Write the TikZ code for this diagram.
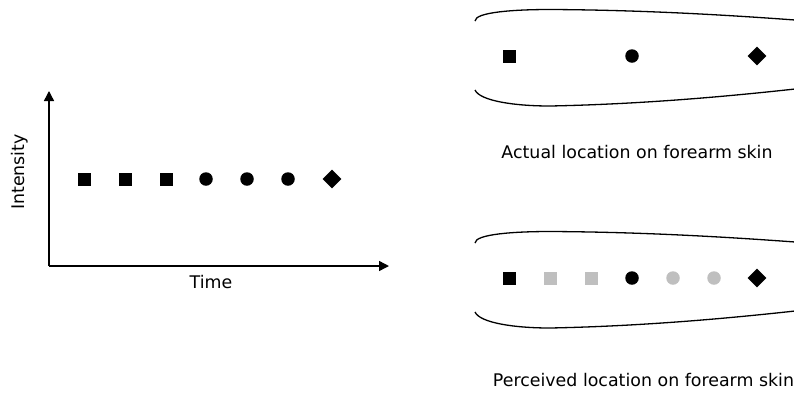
\documentclass[tikz,border=0pt]{standalone}
\usepackage{fontspec}
\setmainfont{DejaVu Sans}
\usetikzlibrary{shapes.geometric,arrows.meta}
\definecolor{faded}{HTML}{BFBFBF}
\tikzset{
  sq/.style={rectangle,fill=black,inner sep=0pt,minimum size=13pt},
  dot/.style={circle,fill=black,inner sep=0pt,minimum size=13.5pt},
  dia/.style={diamond,fill=black,inner sep=0pt,minimum size=19pt},
  ghost/.style={fill=faded},
  axis/.style={line width=1.4pt,-{Triangle[length=10pt,width=10pt]}},
  skin/.style={line width=1.3pt},
  lbl/.style={font=\fontsize{17.4pt}{20pt}\selectfont,inner sep=0pt}
}
\begin{document}
\begin{tikzpicture}[x=1pt,y=-1pt]
\useasboundingbox (0,0) rectangle (794,392);
% intensity over time
\coordinate (o) at (49,266);
\coordinate (ytip) at (49,91);
\coordinate (xtip) at (389,266);
\draw[axis] (o) -- (ytip);
\draw[axis] (o) -- (xtip);
\node[lbl,rotate=90] (ylab) at (20,172) {Intensity};
\node[lbl] (xlab) at (211,282) {Time};
\node[sq]  (t1) at (84,179) {};
\node[sq]  (t2) at (125,179) {};
\node[sq]  (t3) at (166,179) {};
\node[dot] (t4) at (206,179) {};
\node[dot] (t5) at (247,179) {};
\node[dot] (t6) at (288,179) {};
\node[dia] (t7) at (332,179) {};
% actual location
\draw[skin] (475,21) .. controls (475,12) and (515,9.5) .. (550,9.5)
  .. controls (650,10) and (740,16) .. (795,20);
\draw[skin] (475,90) .. controls (480,101) and (515,106) .. (550,106)
  .. controls (650,104) and (740,95) .. (795,89);
\node[sq]  (a1) at (509,56) {};
\node[dot] (a2) at (632,56) {};
\node[dia] (a3) at (757,56) {};
\node[lbl] (alab) at (637,152) {Actual location on forearm skin};
% perceived location
\begin{scope}[yshift=-222pt]
\draw[skin] (475,21) .. controls (475,12) and (515,9.5) .. (550,9.5)
  .. controls (650,10) and (740,16) .. (795,20);
\draw[skin] (475,90) .. controls (480,101) and (515,106) .. (550,106)
  .. controls (650,104) and (740,95) .. (795,89);
\end{scope}
\node[sq]        (p1) at (509,278) {};
\node[sq,ghost]  (p2) at (550,278) {};
\node[sq,ghost]  (p3) at (591,278) {};
\node[dot]       (p4) at (632,278) {};
\node[dot,ghost] (p5) at (673,278) {};
\node[dot,ghost] (p6) at (714,278) {};
\node[dia]       (p7) at (757,278) {};
\node[lbl] (plab) at (643.5,380) {Perceived location on forearm skin};
\end{tikzpicture}
\end{document}
